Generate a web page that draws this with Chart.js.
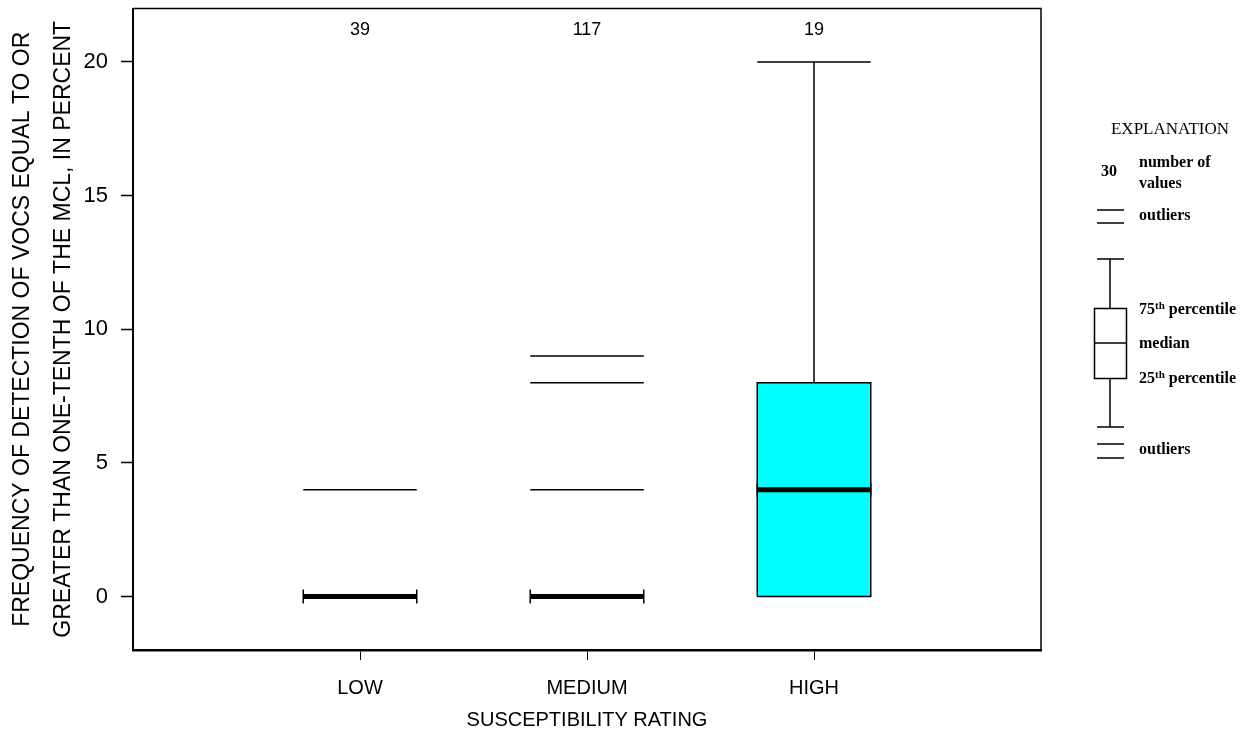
<!DOCTYPE html>
<html>
<head>
<meta charset="utf-8">
<title>Susceptibility rating box plot</title>
<script src="https://cdn.jsdelivr.net/npm/chart.js@4/dist/chart.umd.min.js"></script>
<style>
  html, body { margin: 0; padding: 0; background: #fff; }
  canvas { display: block; }
</style>
</head>
<body>
<canvas id="boxChart" width="1258" height="734"></canvas>
<script>
// Box plot values
const categories = ['LOW', 'MEDIUM', 'HIGH'];
const counts = [39, 117, 19];
const q1 = [0, 0, 0];
const medians = [0, 0, 4];
const q3 = [0, 0, 8];
const whiskerLow = [0, 0, 0];
const whiskerHigh = [0, 0, 20];
const outliers = [[4], [4, 8, 9], []];
const yTicks = [0, 5, 10, 15, 20];

const BOX_HALF = 0.25;

function segment(x1, y1, x2, y2, width, extra) {
    return Object.assign({
        data: [{x: x1, y: y1}, {x: x2, y: y2}],
        showLine: true,
        borderColor: '#000',
        borderWidth: width,
        pointRadius: 0,
        fill: false
    }, extra || {});
}

/**
 * Build line datasets for every box, whisker, median and outlier
 */
function buildDatasets() {
    const sets = [];
    categories.forEach((cat, i) => {
        const x = i + 1;
        const l = x - BOX_HALF, r = x + BOX_HALF;

        if (q3[i] > q1[i]) {
            // filled box: top edge filled down to bottom edge
            sets.push(segment(l, q3[i], r, q3[i], 0, {fill: '+1', backgroundColor: '#00ffff'}));
            sets.push(segment(l, q1[i], r, q1[i], 0));
            sets.push({
                data: [{x: l, y: q1[i]}, {x: r, y: q1[i]}, {x: r, y: q3[i]}, {x: l, y: q3[i]}, {x: l, y: q1[i]}],
                showLine: true, borderColor: '#000', borderWidth: 1.5, pointRadius: 0, fill: false
            });
        }
        if (whiskerHigh[i] > q3[i]) {
            sets.push(segment(x, q3[i], x, whiskerHigh[i], 1.5));
            sets.push(segment(l, whiskerHigh[i], r, whiskerHigh[i], 1.5));
        }
        if (whiskerLow[i] < q1[i]) {
            sets.push(segment(x, q1[i], x, whiskerLow[i], 1.5));
            sets.push(segment(l, whiskerLow[i], r, whiskerLow[i], 1.5));
        }
        // median
        sets.push(segment(l, medians[i], r, medians[i], 5, {
            pointRadius: 7, pointStyle: 'line', pointRotation: 90,
            pointBorderColor: '#000', pointBorderWidth: 1.5
        }));
        outliers[i].forEach(v => sets.push(segment(l, v, r, v, 1.5)));
    });
    return sets;
}

const framePlugin = {
    id: 'frameAndNotes',
    afterDraw(chart) {
        const ctx = chart.ctx;
        const area = chart.chartArea;
        const xs = chart.scales.x;

        ctx.save();
        ctx.strokeStyle = '#000';
        ctx.lineWidth = 1.5;
        ctx.beginPath();
        ctx.moveTo(area.left, area.top);
        ctx.lineTo(area.right, area.top);
        ctx.lineTo(area.right, area.bottom);
        ctx.stroke();

        // number of values above each box
        ctx.fillStyle = '#000';
        ctx.font = '18px "Liberation Sans", Arial, sans-serif';
        ctx.textAlign = 'center';
        ctx.textBaseline = 'middle';
        counts.forEach((n, i) => {
            ctx.fillText(String(n), xs.getPixelForValue(i + 1), area.top + 22);
        });

        drawExplanation(ctx);
        ctx.restore();
    }
};

function drawExplanation(ctx) {
    const serif = '"Liberation Serif", "Times New Roman", serif';
    ctx.fillStyle = '#000';
    ctx.strokeStyle = '#000';
    ctx.lineWidth = 1.5;

    ctx.textAlign = 'center';
    ctx.textBaseline = 'middle';
    ctx.font = '17px ' + serif;
    ctx.fillText('EXPLANATION', 1170, 130);

    ctx.font = 'bold 16px ' + serif;
    ctx.fillText('30', 1109, 172);

    ctx.textAlign = 'left';
    ctx.fillText('number of', 1139, 163);
    ctx.fillText('values', 1139, 184);
    ctx.fillText('outliers', 1139, 216);
    ctx.fillText('outliers', 1139, 450);
    ctx.fillText('median', 1139, 344);

    [[75, 310], [25, 379]].forEach(([p, y]) => {
        ctx.font = 'bold 16px ' + serif;
        ctx.fillText(String(p), 1139, y);
        const w = ctx.measureText(String(p)).width;
        ctx.font = 'bold 11px ' + serif;
        ctx.fillText('th', 1139 + w, y - 4);
        const w2 = ctx.measureText('th').width;
        ctx.font = 'bold 16px ' + serif;
        ctx.fillText(' percentile', 1139 + w + w2, y);
    });

    const line = (x1, y1, x2, y2) => {
        ctx.beginPath();
        ctx.moveTo(x1, y1);
        ctx.lineTo(x2, y2);
        ctx.stroke();
    };
    line(1097, 210, 1124, 210);
    line(1097, 223, 1124, 223);
    line(1097, 259, 1124, 259);
    line(1110, 259, 1110, 308);
    ctx.strokeRect(1094.5, 308.5, 32, 70);
    line(1094, 343, 1126, 343);
    line(1110, 378, 1110, 427);
    line(1097, 427, 1124, 427);
    line(1097, 444, 1124, 444);
    line(1097, 458, 1124, 458);
}

document.addEventListener('DOMContentLoaded', function() {
    const ctx = document.getElementById('boxChart');
    const font = '"Liberation Sans", Arial, sans-serif';

    new Chart(ctx, {
        type: 'scatter',
        data: { datasets: buildDatasets() },
        options: {
            responsive: false,
            animation: false,
            events: [],
            layout: { padding: { top: 8, right: 217, left: 0, bottom: 0 } },
            plugins: {
                legend: { display: false },
                tooltip: { enabled: false },
                filler: { drawTime: 'beforeDatasetsDraw' }
            },
            scales: {
                x: {
                    type: 'linear',
                    min: 0,
                    max: 4,
                    afterBuildTicks: scale => {
                        scale.ticks = categories.map((c, i) => ({ value: i + 1 }));
                    },
                    afterFit: scale => {
                        scale.height = 84;
                        scale.paddingLeft = 0;
                        scale.paddingRight = 0;
                    },
                    ticks: {
                        color: '#000',
                        padding: 16,
                        font: { family: font, size: 20 },
                        callback: v => categories[v - 1]
                    },
                    grid: { drawOnChartArea: false, color: '#000', tickLength: 10, tickWidth: 1 },
                    border: { color: '#000', width: 2.5 },
                    title: {
                        display: true,
                        text: 'SUSCEPTIBILITY RATING',
                        color: '#000',
                        font: { family: font, size: 20, lineHeight: 1.2 },
                        padding: { top: 0, bottom: 2 }
                    }
                },
                y: {
                    min: -2,
                    max: 22,
                    afterBuildTicks: scale => {
                        scale.ticks = yTicks.map(v => ({ value: v }));
                    },
                    afterFit: scale => {
                        scale.width = 133;
                        scale.paddingTop = 0;
                        scale.paddingBottom = 0;
                    },
                    ticks: {
                        color: '#000',
                        padding: 13,
                        font: { family: font, size: 22 }
                    },
                    grid: { drawOnChartArea: false, color: '#000', tickLength: 12, tickWidth: 1.5 },
                    border: { color: '#000', width: 2 },
                    title: {
                        display: true,
                        text: ['FREQUENCY OF DETECTION OF VOCS EQUAL TO OR',
                               'GREATER THAN ONE-TENTH OF THE MCL, IN PERCENT'],
                        color: '#000',
                        font: { family: font, size: 23, lineHeight: 1.78 },
                        padding: { top: 2, bottom: 0 }
                    }
                }
            }
        },
        plugins: [framePlugin]
    });
});
</script>
</body>
</html>
